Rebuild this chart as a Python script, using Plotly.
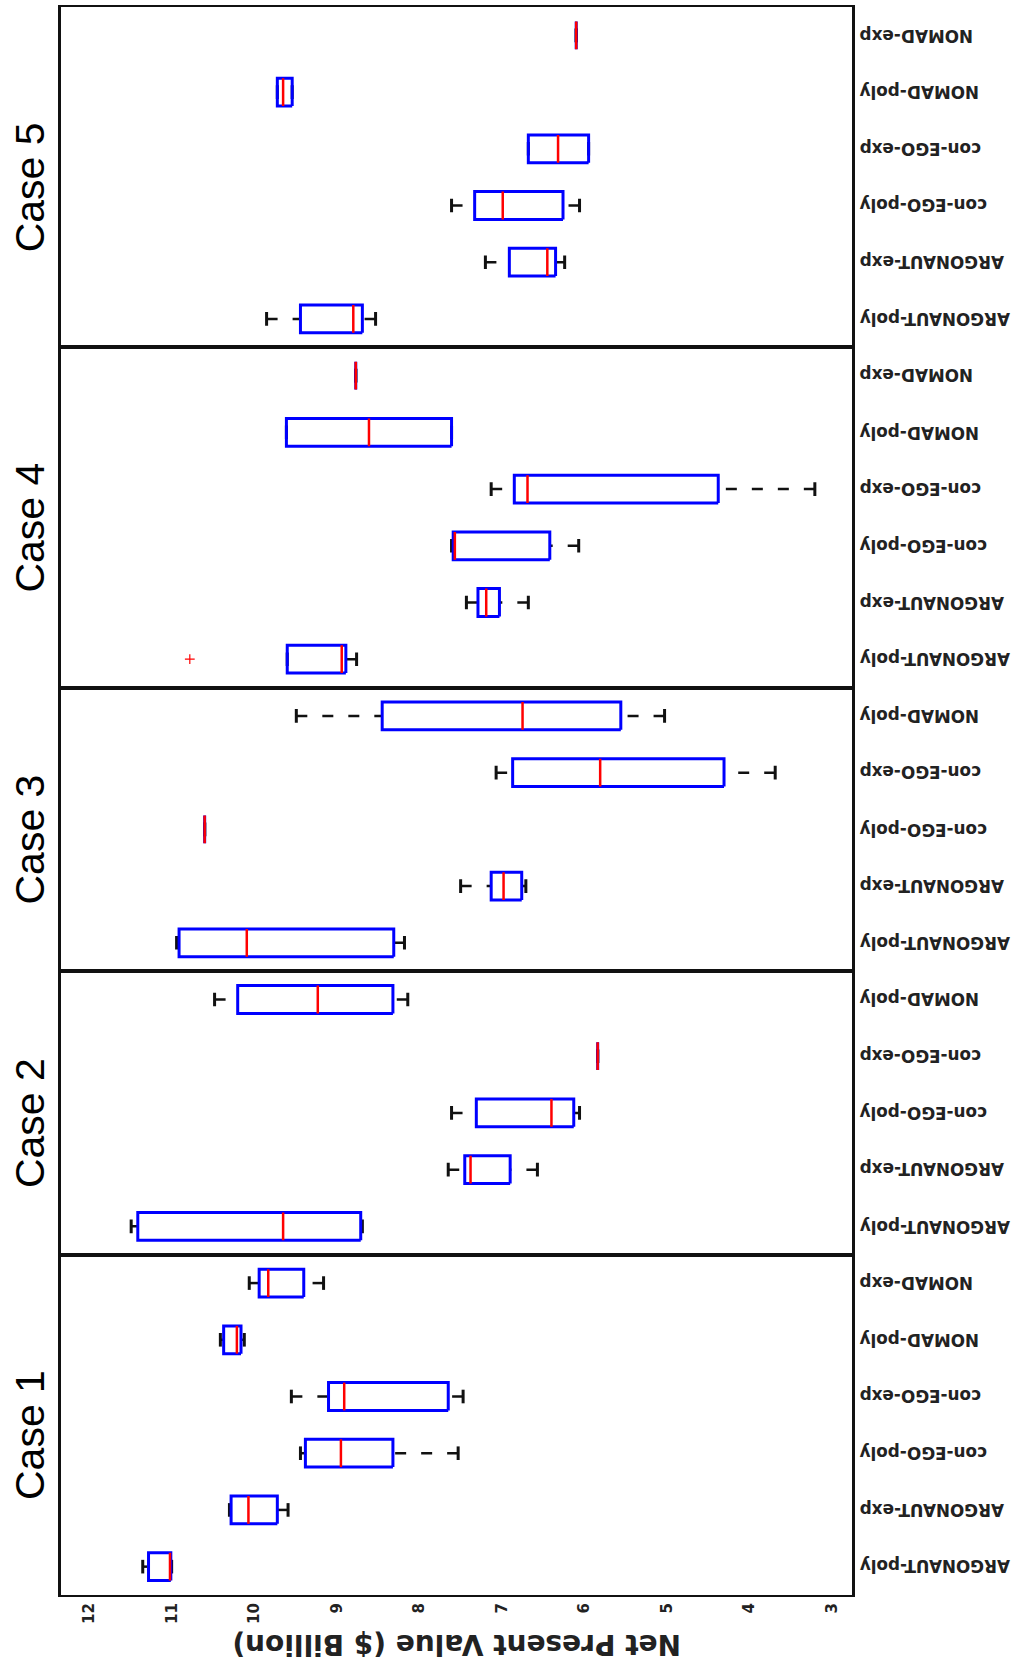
import plotly.graph_objects as go
from plotly.subplots import make_subplots

# ---------------------------------------------------------------------------
# Data: Net Present Value ($ Billion) box statistics per optimiser and case
# ---------------------------------------------------------------------------
CASES = ["Case 1", "Case 2", "Case 3", "Case 4", "Case 5"]

CATS_1 = ["ARGONAUT-poly", "ARGONAUT-exp", "con-EGO-poly", "con-EGO-exp", "NOMAD-poly", "NOMAD-exp"]
CATS_2 = ["ARGONAUT-poly", "ARGONAUT-exp", "con-EGO-poly", "con-EGO-exp", "NOMAD-poly"]
CATS_3 = ["ARGONAUT-poly", "ARGONAUT-exp", "con-EGO-poly", "con-EGO-exp", "NOMAD-poly"]
CATS_4 = ["ARGONAUT-poly", "ARGONAUT-exp", "con-EGO-poly", "con-EGO-exp", "NOMAD-poly", "NOMAD-exp"]
CATS_5 = ["ARGONAUT-poly", "ARGONAUT-exp", "con-EGO-poly", "con-EGO-exp", "NOMAD-poly", "NOMAD-exp"]

case1_low = [11.00, 9.59, 7.53, 7.47, 10.12, 9.16]
case1_q1 = [11.01, 9.72, 8.32, 7.65, 10.16, 9.40]
case1_med = [11.02, 10.07, 8.95, 8.91, 10.21, 9.83]
case1_q3 = [11.28, 10.28, 9.38, 9.10, 10.37, 9.94]
case1_high = [11.35, 10.30, 9.44, 9.55, 10.41, 10.06]
case1_out_idx = []
case1_out_val = []

case2_low = [8.69, 6.57, 6.06, 5.84, 8.14]
case2_q1 = [8.71, 6.90, 6.13, 5.84, 8.32]
case2_med = [9.65, 7.38, 6.40, 5.84, 9.23]
case2_q3 = [11.41, 7.45, 7.31, 5.84, 10.20]
case2_high = [11.49, 7.65, 7.61, 5.84, 10.48]
case2_out_idx = []
case2_out_val = []

case3_low = [8.18, 6.71, 10.60, 3.69, 5.03]
case3_q1 = [8.31, 6.76, 10.60, 4.31, 5.56]
case3_med = [10.09, 6.98, 10.60, 5.81, 6.75]
case3_q3 = [10.91, 7.13, 10.60, 6.87, 8.45]
case3_high = [10.94, 7.50, 10.60, 7.07, 9.49]
case3_out_idx = []
case3_out_val = []

case4_low = [8.76, 6.68, 6.07, 3.21, 7.61, 8.77]
case4_q1 = [8.89, 7.03, 6.42, 4.38, 7.61, 8.77]
case4_med = [8.94, 7.19, 7.57, 6.69, 8.61, 8.77]
case4_q3 = [9.60, 7.29, 7.59, 6.85, 9.61, 8.77]
case4_high = [9.60, 7.43, 7.61, 7.13, 9.61, 8.77]
case4_out_idx = [0]
case4_out_val = [10.78]

case5_low = [8.53, 6.24, 6.06, 5.95, 9.54, 6.10]
case5_q1 = [8.69, 6.35, 6.26, 5.95, 9.54, 6.10]
case5_med = [8.80, 6.45, 6.99, 6.32, 9.65, 6.10]
case5_q3 = [9.44, 6.91, 7.33, 6.68, 9.72, 6.10]
case5_high = [9.85, 7.20, 7.61, 6.68, 9.72, 6.10]
case5_out_idx = []
case5_out_val = []

X_TICKS = [12, 11, 10, 9, 8, 7, 6, 5, 4, 3]
X_TITLE = "Net Present Value ($ Billion)"

# panels from top to bottom
panels = [
    (CASES[4], CATS_5, case5_low, case5_q1, case5_med, case5_q3, case5_high, case5_out_idx, case5_out_val),
    (CASES[3], CATS_4, case4_low, case4_q1, case4_med, case4_q3, case4_high, case4_out_idx, case4_out_val),
    (CASES[2], CATS_3, case3_low, case3_q1, case3_med, case3_q3, case3_high, case3_out_idx, case3_out_val),
    (CASES[1], CATS_2, case2_low, case2_q1, case2_med, case2_q3, case2_high, case2_out_idx, case2_out_val),
    (CASES[0], CATS_1, case1_low, case1_q1, case1_med, case1_q3, case1_high, case1_out_idx, case1_out_val),
]

BOX_HALF = 0.245
CAP_HALF = 0.12
BLUE = "#0000ff"
RED = "#ff0000"
INK = "#111111"

fig = make_subplots(
    rows=len(panels), cols=1, shared_xaxes=True, vertical_spacing=0,
    row_heights=[len(p[1]) for p in panels],
)

for r, (case, cats, low, q1, med, q3, high, out_idx, out_val) in enumerate(panels, start=1):
    wx, wy, cx, cy, bx, by, mx, my = [], [], [], [], [], [], [], []
    for i in range(len(cats)):
        # whiskers, drawn from the adjacent value back to the box edge
        if high[i] > q3[i]:
            wx += [high[i], q3[i], None]
            wy += [i, i, None]
        if low[i] < q1[i]:
            wx += [low[i], q1[i], None]
            wy += [i, i, None]
        # whisker caps
        cx += [high[i], high[i], None, low[i], low[i], None]
        cy += [i - CAP_HALF, i + CAP_HALF, None, i - CAP_HALF, i + CAP_HALF, None]
        # box outline
        bx += [q1[i], q3[i], q3[i], q1[i], q1[i], None]
        by += [i - BOX_HALF, i - BOX_HALF, i + BOX_HALF, i + BOX_HALF, i - BOX_HALF, None]
        # median
        mx += [med[i], med[i], None]
        my += [i - BOX_HALF, i + BOX_HALF, None]

    fig.add_trace(go.Scatter(x=wx, y=wy, mode="lines", hoverinfo="skip",
                             line=dict(color=INK, width=2.5, dash="11px,15px")), row=r, col=1)
    fig.add_trace(go.Scatter(x=cx, y=cy, mode="lines", hoverinfo="skip",
                             line=dict(color=INK, width=3)), row=r, col=1)
    fig.add_trace(go.Scatter(x=bx, y=by, mode="lines", hoverinfo="skip",
                             line=dict(color=BLUE, width=3)), row=r, col=1)
    fig.add_trace(go.Scatter(x=mx, y=my, mode="lines", hoverinfo="skip",
                             line=dict(color=RED, width=2.5)), row=r, col=1)
    if out_val:
        fig.add_trace(go.Scatter(x=out_val, y=out_idx, mode="markers", hoverinfo="skip",
                                 marker=dict(symbol="cross-thin", size=7,
                                             line=dict(color=RED, width=1.2))), row=r, col=1)

    yname = "y" if r == 1 else f"y{r}"
    fig.update_yaxes(range=[-0.5, len(cats) - 0.5], showticklabels=False, ticks="",
                     showgrid=False, zeroline=False, showline=True, mirror=True,
                     linecolor=INK, linewidth=2.5, fixedrange=True, row=r, col=1)

    # category labels on the right, upside down
    for i, name in enumerate(cats):
        fig.add_annotation(x=1, xref="paper", xshift=6, xanchor="left",
                           y=i, yref=yname, yanchor="middle",
                           text=name, textangle=180, showarrow=False,
                           font=dict(family="DejaVu Sans", size=16.8, color="#222222", weight="bold"))

    # case label on the left
    fig.add_annotation(x=-0.039, xref="paper", xanchor="center",
                       y=0.5, yref=f"{yname} domain", yanchor="middle", yshift=-10,
                       text=case, textangle=-90, showarrow=False,
                       font=dict(family="Liberation Sans", size=41, color="#000000"))

fig.update_xaxes(range=[12.34, 2.76], tickvals=X_TICKS, ticktext=[str(t) for t in X_TICKS],
                 tickangle=-90, ticks="", showgrid=False, zeroline=False,
                 showline=True, mirror=True, linecolor=INK, linewidth=2.2,
                 tickfont=dict(family="DejaVu Sans", size=15, color="#222222", weight="bold"))

fig.add_annotation(x=0.5, xref="paper", xanchor="center",
                   y=-0.0315, yref="paper", yanchor="middle",
                   text=X_TITLE, textangle=180, showarrow=False,
                   font=dict(family="DejaVu Sans", size=28, color="#222222", weight="bold"))

fig.update_layout(
    width=1018, height=1667,
    margin=dict(l=61, r=166, t=5, b=72),
    paper_bgcolor="white", plot_bgcolor="white",
    showlegend=False,
)

fig.write_html("out.html")
